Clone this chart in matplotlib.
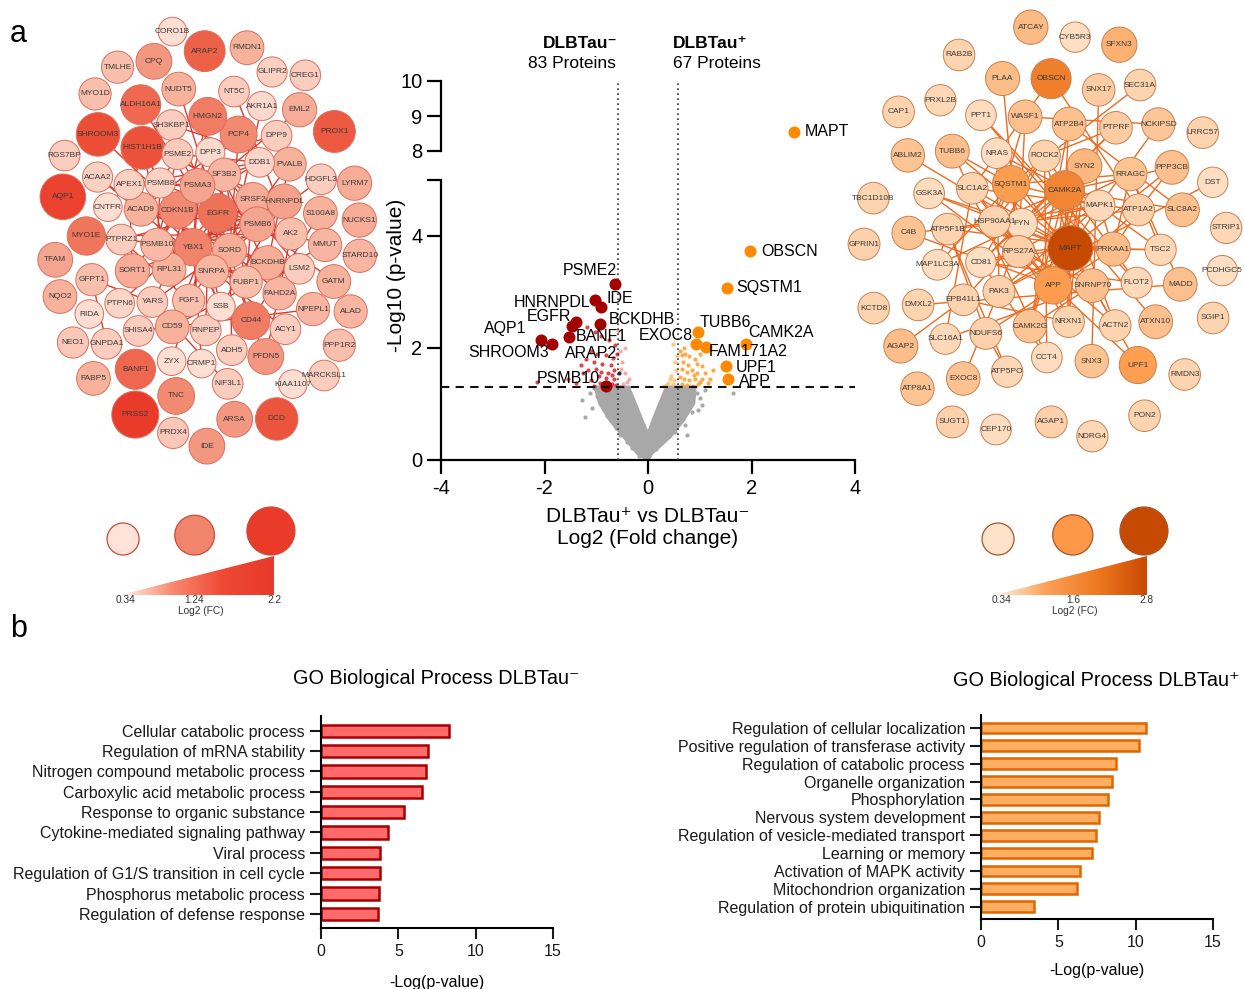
#!/usr/bin/env python3
"""
Proteomics overview figure: protein networks, volcano plot and GO enrichment bars.
"""

import numpy as np
import matplotlib
matplotlib.use("Agg")
import matplotlib.pyplot as plt
from matplotlib.patches import Circle, Polygon
from matplotlib.colors import LinearSegmentedColormap
from matplotlib.collections import LineCollection
from matplotlib import transforms

plt.rcParams["font.family"] = ["Liberation Sans", "DejaVu Sans"]
plt.rcParams["axes.unicode_minus"] = False

W, H = 1244, 989

# ---------------------------------------------------------------- networks
# DLBTau- network (log2 FC, absolute)
neg_nodes = ["TNC", "CPQ", "DPP9", "DPP3", "RNPEP", "PPP1R2", "RIDA", "ALDH16A1", "FAHD2A",
             "NPEPL1", "SHISA4", "GLIPR2", "ARSA", "AKR1A1", "SORD", "BCKDHB", "RGS7BP", "PCP4",
             "NUCKS1", "BANF1", "ADH5", "PTPRZ1", "PVALB", "ARAP2", "KIAA1107", "CNTFR", "ACAD9",
             "S100A8", "FGF1", "TFAM", "PROX1", "PRDX4", "CD44", "SH3KBP1", "ZYX", "ACAA2",
             "TMLHE", "MMUT", "CD59", "EGFR", "NUDT5", "CDKN1B", "ACY1", "ALAD", "PTPN6", "SF3B2",
             "DDB1", "EML2", "NEO1", "CRMP1", "YBX1", "SRSF2", "FUBP1", "SHROOM3", "RMDN1", "DCD",
             "LSM2", "APEX1", "SORT1", "SNRPA", "HNRNPDL", "SSB", "GATM", "AQP1", "PSMB8", "PSMB6",
             "LYRM7", "PRSS2", "HIST1H1B", "RPL31", "PSMA3", "CORO1B", "PSME2", "MARCKSL1", "NQO2",
             "PSMB10", "CREG1", "IDE", "GNPDA1", "HMGN2", "PFDN5", "AK2", "NT5C", "MYO1D", "YARS",
             "NIF3L1", "MYO1E", "GFPT1", "HDGFL3", "STARD10", "FABP5"]
neg_fc = [1.2, 1.1, 0.6, 0.45, 0.6, 0.75, 0.4, 1.5, 0.85,
          0.85, 0.6, 0.55, 1.1, 0.45, 0.95, 0.93, 0.6, 1.2,
          0.95, 1.53, 0.6, 0.6, 0.9, 1.6, 0.4, 0.4, 0.9,
          0.9, 0.75, 1.0, 1.7, 0.65, 1.3, 0.6, 0.4, 0.55,
          0.75, 0.85, 0.9, 1.39, 0.9, 1.2, 0.6, 0.85, 0.5, 0.85,
          0.5, 0.95, 0.65, 0.4, 1.25, 0.95, 0.75, 1.86, 0.9, 1.75,
          0.6, 0.55, 0.95, 0.85, 1.02, 0.4, 0.9, 2.06, 0.55, 1.0,
          0.95, 2.2, 1.8, 0.9, 1.0, 0.4, 0.63, 0.6, 0.9,
          0.81, 0.6, 1.1, 0.6, 1.3, 1.1, 0.75, 0.6, 0.75, 0.6,
          0.6, 1.35, 0.75, 0.6, 0.85, 0.9]
neg_edges = [
    ("DPP3", "RNPEP"), ("DPP3", "DPP9"), ("DPP3", "FAHD2A"), ("FAHD2A", "BCKDHB"),
    ("FAHD2A", "SORD"), ("ALDH16A1", "SORD"), ("SHISA4", "NPEPL1"), ("SORD", "AKR1A1"),
    ("SORD", "ADH5"), ("SORD", "BCKDHB"), ("SORD", "PCP4"), ("SORD", "PTPRZ1"),
    ("SORD", "ACAD9"), ("BCKDHB", "ACAD9"), ("BCKDHB", "PVALB"), ("PCP4", "ACAD9"),
    ("ACAD9", "ACAA2"), ("ACAA2", "ACY1"), ("PVALB", "FGF1"), ("PVALB", "SH3KBP1"),
    ("FGF1", "EGFR"), ("PTPRZ1", "EGFR"), ("PTPRZ1", "FGF1"), ("S100A8", "CD44"),
    ("CD44", "EGFR"), ("MMUT", "CD59"), ("CD59", "EGFR"), ("MMUT", "EGFR"),
    ("SF3B2", "EGFR"), ("SF3B2", "SRSF2"), ("SF3B2", "SNRPA"), ("SF3B2", "FUBP1"),
    ("SF3B2", "LSM2"), ("EGFR", "NUDT5"), ("EGFR", "SH3KBP1"), ("EGFR", "CDKN1B"),
    ("EGFR", "YBX1"), ("EGFR", "PTPN6"), ("EGFR", "SRSF2"), ("EGFR", "ZYX"),
    ("SH3KBP1", "CNTFR"), ("YBX1", "SRSF2"), ("YBX1", "HNRNPDL"), ("YBX1", "SSB"),
    ("YBX1", "FUBP1"), ("YBX1", "PSMA3"), ("YBX1", "RPL31"), ("YBX1", "HIST1H1B"),
    ("YBX1", "APEX1"), ("YBX1", "SORT1"), ("YBX1", "CRMP1"), ("CDKN1B", "DDB1"),
    ("CDKN1B", "PSMB8"), ("CDKN1B", "PSMA3"), ("CDKN1B", "PSMB6"), ("CDKN1B", "PSMB10"),
    ("CDKN1B", "SHROOM3"), ("CDKN1B", "EML2"), ("DDB1", "PSMA3"), ("DDB1", "APEX1"),
    ("DDB1", "PSME2"), ("SRSF2", "HNRNPDL"), ("SRSF2", "SNRPA"), ("SRSF2", "FUBP1"),
    ("HNRNPDL", "SNRPA"), ("HNRNPDL", "SSB"), ("SNRPA", "LSM2"), ("SNRPA", "FUBP1"),
    ("SNRPA", "SSB"), ("FUBP1", "LSM2"), ("HIST1H1B", "SSB"), ("HIST1H1B", "HNRNPDL"),
    ("PSMA3", "PSMB8"), ("PSMA3", "PSMB6"), ("PSMA3", "PSME2"), ("PSMA3", "PSMB10"),
    ("PSMA3", "RPL31"), ("PSMA3", "APEX1"), ("PSMA3", "PFDN5"), ("PSMA3", "SORT1"),
    ("PSMB8", "PSMB6"), ("PSMB8", "PSME2"), ("PSMB8", "PSMB10"), ("PSMB6", "PSME2"),
    ("PSMB6", "PSMB10"), ("PSME2", "PSMB10"), ("PSMB6", "GATM"), ("AK2", "NT5C"),
    ("AK2", "PSMB10"), ("AK2", "PFDN5"), ("AK2", "MYO1E"), ("YARS", "GFPT1"),
    ("YARS", "RPL31"), ("YARS", "NIF3L1"), ("YARS", "HDGFL3"), ("GFPT1", "GNPDA1"),
    ("HMGN2", "RPL31"), ("HMGN2", "YBX1"), ("RPL31", "HIST1H1B"), ("SORT1", "APEX1"),
    ("APEX1", "PSMB8"),
]

# DLBTau+ network
pos_nodes = ["AGAP2", "SNX17", "AGAP1", "EPB41L1", "ATP2B4", "SYN2", "SNX3", "PRXL2B", "CAMK2G",
             "PCDHGC5", "SLC8A2", "CAMK2A", "NRXN1", "SLC16A1", "SLC1A2", "OBSCN", "ACTN2",
             "ATP8A1", "UPF1", "APP", "SNRNP70", "C4B", "CYB5R3", "GSK3A", "ATP1A2", "ABLIM2",
             "DST", "NRAS", "PPP3CB", "PON2", "MAPT", "PRKAA1", "NDUFS6", "EXOC8", "PAK3", "FYN",
             "TSC2", "TBC1D10B", "NCKIPSD", "MAPK1", "RPS27A", "HSP90AA1", "ATP5F1B", "ATP5PO",
             "WASF1", "LRRC57", "RRAGC", "PLAA", "CD81", "FLOT2", "SQSTM1", "ROCK2", "MAP1LC3A",
             "CEP170", "RAB2B", "ATXN10", "PPT1", "MADD", "DMXL2", "PTPRF", "CCT4", "TUBB6",
             "SGIP1", "KCTD8", "SEC31A", "SFXN3", "NDRG4", "CAP1", "STRIP1", "SUGT1", "ATCAY",
             "RMDN3", "GPRIN1"]
pos_fc = [1.0, 0.75, 0.65, 0.6, 0.95, 1.1, 0.9, 0.55, 0.9,
          0.4, 0.95, 1.89, 0.6, 0.5, 0.6, 1.98, 0.6,
          0.9, 1.51, 1.54, 0.95, 0.9, 0.4, 0.45, 0.65, 0.9,
          0.4, 0.45, 0.95, 0.6, 2.83, 1.0, 0.65, 0.92, 0.65, 0.45,
          0.55, 0.6, 0.85, 0.5, 0.7, 0.6, 0.6, 0.55,
          0.95, 0.6, 0.9, 1.0, 0.4, 0.5, 1.53, 0.6, 0.45,
          0.45, 0.6, 0.95, 0.45, 0.95, 0.6, 0.75, 0.45, 0.97,
          0.6, 0.6, 0.6, 1.2, 0.55, 0.6, 0.55, 0.65, 1.05,
          0.6, 0.65]
pos_edges = [
    ("AGAP2", "EPB41L1"), ("SNX17", "SNX3"), ("EPB41L1", "SYN2"), ("EPB41L1", "NRXN1"),
    ("ATP2B4", "CAMK2G"), ("ATP2B4", "SLC8A2"), ("ATP2B4", "CAMK2A"), ("SYN2", "CAMK2G"),
    ("SYN2", "CAMK2A"), ("SYN2", "NRXN1"), ("SYN2", "APP"), ("SYN2", "MAPT"),
    ("CAMK2G", "CAMK2A"), ("CAMK2G", "SNRNP70"), ("SLC8A2", "CAMK2A"), ("CAMK2A", "NRXN1"),
    ("CAMK2A", "MAPT"), ("CAMK2A", "APP"), ("CAMK2A", "ACTN2"), ("CAMK2A", "FYN"),
    ("CAMK2A", "HSP90AA1"), ("NRXN1", "SLC1A2"), ("NRXN1", "APP"), ("NRXN1", "MAPT"),
    ("SLC16A1", "SLC1A2"), ("SLC16A1", "SNRNP70"), ("SLC1A2", "OBSCN"), ("SLC1A2", "MAPT"),
    ("SLC1A2", "ATP1A2"), ("SLC1A2", "APP"), ("OBSCN", "ATP1A2"), ("ACTN2", "MAPT"),
    ("ACTN2", "HSP90AA1"), ("UPF1", "SNRNP70"), ("UPF1", "APP"), ("APP", "MAPT"),
    ("APP", "C4B"), ("APP", "ATP1A2"), ("APP", "GSK3A"), ("APP", "FYN"),
    ("APP", "HSP90AA1"), ("SNRNP70", "NRAS"), ("SNRNP70", "RPS27A"), ("C4B", "ATP1A2"),
    ("GSK3A", "MAPT"), ("GSK3A", "FYN"), ("ATP1A2", "PRKAA1"), ("ATP1A2", "PPP3CB"),
    ("ABLIM2", "FYN"), ("DST", "PAK3"), ("NRAS", "MAPK1"), ("NRAS", "PAK3"),
    ("NRAS", "FYN"), ("PPP3CB", "MAPT"), ("PPP3CB", "CAMK2A"), ("MAPT", "PRKAA1"),
    ("MAPT", "FYN"), ("MAPT", "MAPK1"), ("MAPT", "TSC2"), ("MAPT", "HSP90AA1"),
    ("MAPT", "SQSTM1"), ("MAPT", "RPS27A"), ("MAPT", "CD81"), ("MAPT", "TUBB6"),
    ("MAPT", "ROCK2"), ("MAPT", "PAK3"), ("PRKAA1", "NDUFS6"), ("PRKAA1", "TSC2"),
    ("PRKAA1", "ATP5F1B"), ("PRKAA1", "MAPK1"), ("PRKAA1", "RRAGC"), ("NDUFS6", "ATP5PO"),
    ("NDUFS6", "ATP5F1B"), ("EXOC8", "PAK3"), ("PAK3", "FYN"), ("PAK3", "MAPK1"),
    ("FYN", "MAPK1"), ("FYN", "HSP90AA1"), ("FYN", "RPS27A"), ("FYN", "CD81"),
    ("FYN", "PTPRF"), ("TSC2", "MAPK1"), ("TSC2", "RRAGC"), ("NCKIPSD", "MAPK1"),
    ("NCKIPSD", "WASF1"), ("MAPK1", "HSP90AA1"), ("MAPK1", "SQSTM1"), ("MAPK1", "RPS27A"),
    ("RPS27A", "HSP90AA1"), ("RPS27A", "WASF1"), ("RPS27A", "SQSTM1"), ("RPS27A", "PLAA"),
    ("RPS27A", "CD81"), ("HSP90AA1", "ATP5F1B"), ("HSP90AA1", "ROCK2"), ("HSP90AA1", "SQSTM1"),
    ("HSP90AA1", "WASF1"), ("ATP5F1B", "ATP5PO"), ("ATP5F1B", "MAP1LC3A"), ("RRAGC", "MAP1LC3A"),
    ("RRAGC", "MADD"), ("SQSTM1", "MAP1LC3A"), ("SQSTM1", "RRAGC"), ("SQSTM1", "SEC31A"),
    ("SQSTM1", "TUBB6"), ("CD81", "FLOT2"), ("CD81", "PTPRF"), ("CD81", "ROCK2"),
    ("CD81", "CCT4"), ("FLOT2", "ROCK2"), ("FLOT2", "PPT1"), ("ROCK2", "CCT4"),
    ("ROCK2", "PTPRF"), ("ATXN10", "PPT1"), ("MADD", "DMXL2"), ("TUBB6", "CCT4"),
]

# ---------------------------------------------------------------- volcano
neg_big_names = ["PSME2", "HNRNPDL", "IDE", "BCKDHB", "EGFR", "ARAP2", "BANF1", "AQP1", "SHROOM3", "PSMB10"]
neg_big_x = [-0.63, -1.02, -0.91, -0.93, -1.39, -1.47, -1.53, -2.06, -1.86, -0.81]
neg_big_y = [3.14, 2.85, 2.73, 2.43, 2.47, 2.39, 2.20, 2.15, 2.08, 1.32]

pos_big_names = ["MAPT", "OBSCN", "SQSTM1", "TUBB6", "EXOC8", "FAM171A2", "CAMK2A", "UPF1", "APP"]
pos_big_x = [2.83, 1.98, 1.53, 0.97, 0.92, 1.13, 1.89, 1.51, 1.54]
pos_big_y = [8.55, 3.73, 3.08, 2.28, 2.08, 2.02, 2.08, 1.68, 1.44]

# where each label sits (left edge, vertical centre)
neg_label_xy = [(-1.65, 3.38), (-2.59, 2.82), (-0.80, 2.89), (-0.76, 2.51), (-2.34, 2.57),
                (-1.60, 1.91), (-1.39, 2.21), (-3.17, 2.35), (-3.48, 1.92), (-2.15, 1.45)]
pos_label_xy = [(3.02, 8.55), (2.18, 3.73), (1.71, 3.08), (1.00, 2.46), (-0.17, 2.23),
                (1.17, 1.93), (1.94, 2.27), (1.69, 1.65), (1.75, 1.40)]

neg_small = [(-1.18, 2.37), (-1.02, 2.29), (-0.90, 2.22), (-0.75, 2.15), (-0.64, 2.05),
             (-1.10, 1.95), (-0.98, 1.90), (-0.82, 1.88), (-0.68, 1.83), (-1.20, 1.80),
             (-1.05, 1.75), (-0.88, 1.72), (-0.72, 1.70), (-1.00, 1.62), (-0.90, 1.58),
             (-0.77, 1.55), (-0.65, 1.60), (-1.25, 1.55), (-0.95, 1.50), (-0.81, 1.47),
             (-0.66, 1.45), (-1.10, 1.42), (-0.92, 1.38), (-0.70, 1.36), (-0.62, 1.34),
             (-2.15, 1.40), (-1.40, 1.38), (-1.55, 1.45), (-0.86, 1.33), (-1.05, 1.33),
             (-0.70, 1.52), (-1.15, 1.60), (-1.30, 1.70), (-0.60, 1.90)]
neg_pale = [(-0.55, 1.95), (-0.50, 1.75), (-0.45, 1.55), (-0.40, 1.40), (-0.48, 1.35),
            (-0.36, 1.45), (-0.52, 1.62), (-0.58, 2.30), (-0.44, 2.00)]
pos_small = [(0.62, 1.95), (0.72, 1.90), (0.80, 1.85), (0.90, 1.80), (0.68, 1.75),
             (0.78, 1.70), (0.95, 1.72), (1.05, 1.68), (0.65, 1.62), (0.75, 1.58),
             (0.85, 1.60), (0.95, 1.55), (1.10, 1.55), (0.62, 1.48), (0.70, 1.45),
             (0.80, 1.42), (0.90, 1.45), (1.00, 1.40), (1.15, 1.38), (0.66, 1.36),
             (0.76, 1.34), (0.86, 1.33), (0.96, 1.35), (1.05, 1.45), (0.88, 1.52),
             (1.20, 1.45), (1.25, 1.60), (0.70, 2.00), (1.00, 1.90), (0.65, 1.87)]
pos_pale = [(0.45, 1.50), (0.50, 1.42), (0.38, 1.38), (0.55, 1.60), (0.48, 1.35),
            (0.42, 1.45), (0.52, 1.75), (0.35, 1.34), (0.49, 2.08), (0.56, 1.85), (0.30, 1.32)]
other_pts = [(-0.57, 1.56)]

# non-significant cloud: outline of the dense V, plus loose points round it
cloud_x = [0.0, -0.20, -0.47, -0.73, -0.93, -1.02, -0.38, -0.25, -0.12, 0.0,
           0.10, 0.23, 0.36, 0.91, 0.88, 0.68, 0.43, 0.07]
cloud_y = [0.0, 0.12, 0.42, 0.71, 1.01, 1.30, 1.30, 1.01, 0.71, 0.45,
           0.71, 1.01, 1.30, 1.30, 1.01, 0.71, 0.42, 0.12]
gray_pts = [(-1.22, 0.77), (-1.09, 0.92), (-1.28, 1.07), (-1.12, 1.20), (-0.98, 1.15),
            (-0.85, 0.95), (-0.80, 0.78), (-0.62, 0.58), (-0.55, 0.45), (-0.40, 0.33),
            (-0.30, 0.22), (-0.18, 0.08), (0.15, 0.20), (0.30, 0.38), (0.52, 0.50),
            (0.72, 0.62), (0.85, 0.85), (0.97, 0.89), (1.04, 0.98), (1.65, 1.19),
            (0.75, 0.45), (0.95, 1.20), (1.10, 1.25), (-1.05, 1.28), (0.30, 0.90),
            (-0.32, 0.80), (-0.20, 0.50), (0.12, 0.35), (-0.68, 0.85), (0.62, 0.80),
            (1.00, 1.10), (-0.95, 1.24), (0.42, 1.20), (-0.45, 1.25)]

# ---------------------------------------------------------------- GO terms
go_neg_terms = ["Cellular catabolic process", "Regulation of mRNA stability",
                "Nitrogen compound metabolic process", "Carboxylic acid metabolic process",
                "Response to organic substance", "Cytokine-mediated signaling pathway",
                "Viral process", "Regulation of G1/S transition in cell cycle",
                "Phosphorus metabolic process", "Regulation of defense response"]
go_neg_vals = [8.26, 6.89, 6.76, 6.56, 5.36, 4.35, 3.83, 3.83, 3.74, 3.66]

go_pos_terms = ["Regulation of cellular localization", "Positive regulation of transferase activity",
                "Regulation of catabolic process", "Organelle organization", "Phosphorylation",
                "Nervous system development", "Regulation of vesicle-mediated transport",
                "Learning or memory", "Activation of MAPK activity", "Mitochondrion organization",
                "Regulation of protein ubiquitination"]
go_pos_vals = [10.70, 10.22, 8.76, 8.50, 8.24, 7.62, 7.45, 7.19, 6.41, 6.22, 3.44]

# legend values
neg_legend = [0.34, 1.24, 2.2]
pos_legend = [0.34, 1.6, 2.8]

RED_CMAP = LinearSegmentedColormap.from_list(
    "reds", [(0, "#fde3d9"), (0.3, "#f7b29d"), (0.55, "#ef745a"), (0.8, "#ec4f38"), (1, "#e93a2a")])
ORANGE_CMAP = LinearSegmentedColormap.from_list(
    "oranges", [(0, "#fee2c9"), (0.25, "#fcc08e"), (0.5, "#fd9a4a"), (0.75, "#e8721f"), (1, "#c74a03")])
RED_RAMP = LinearSegmentedColormap.from_list("redramp", ["#fff4f0", "#f98a70", "#ef4a36", "#e6392a"])
ORANGE_RAMP = LinearSegmentedColormap.from_list("orramp", ["#fff3e6", "#fca15a", "#ee7a22", "#c94a02"])


def px_axes(fig, x0, y0, x1, y1):
    """Axes placed by pixel box (top-left origin)."""
    return fig.add_axes([x0 / W, 1 - y1 / H, (x1 - x0) / W, (y1 - y0) / H])


def relax_layout(n, ei, ej, radii, cx, cy, a, b, gap, steps=700):
    """Sunflower start (hubs in the middle), then springs + collisions inside an ellipse."""
    deg = np.bincount(np.concatenate([ei, ej]), minlength=n)
    order = np.argsort(-deg, kind="stable")
    k = np.arange(n)
    rho = np.sqrt((k + 0.5) / n)
    ang = k * np.pi * (3 - np.sqrt(5))
    pos = np.empty((n, 2))
    pos[order, 0] = cx + 0.92 * a * rho * np.cos(ang)
    pos[order, 1] = cy + 0.92 * b * rho * np.sin(ang)
    centre = np.array([cx, cy])
    for _ in range(steps):
        disp = np.zeros((n, 2))
        d = pos[ej] - pos[ei]
        dist = np.hypot(d[:, 0], d[:, 1]) + 1e-9
        pull = 0.006 * np.clip(dist - (radii[ei] + radii[ej] + 30), 0, None)
        vec = d / dist[:, None] * pull[:, None]
        np.add.at(disp, ei, vec)
        np.add.at(disp, ej, -vec)
        diff = pos[:, None, :] - pos[None, :, :]
        dd = np.hypot(diff[..., 0], diff[..., 1])
        np.fill_diagonal(dd, 1e9)
        overlap = np.clip(radii[:, None] + radii[None, :] + gap - dd, 0, None)
        disp += (diff / dd[..., None] * (0.5 * overlap)[..., None]).sum(axis=1)
        pos += disp
        rel = pos - centre
        s = np.sqrt((rel[:, 0] / (a - radii)) ** 2 + (rel[:, 1] / (b - radii)) ** 2)
        out = s > 1
        pos[out] = centre + rel[out] / s[out, None]
    return pos


def draw_network(ax, names, fc, edges, fc_max, cmap, box, gap, line_col, ring_col, rmin, rspan):
    cx, cy, a, b = box
    t = (np.array(fc) - 0.34) / (fc_max - 0.34)
    radii = rmin + rspan * t
    idx = {name: i for i, name in enumerate(names)}
    ei = np.array([idx[u] for u, _ in edges])
    ej = np.array([idx[v] for _, v in edges])
    pos = relax_layout(len(names), ei, ej, radii, cx, cy, a, b, gap)
    segs = [[pos[i], pos[j]] for i, j in zip(ei, ej)]
    ax.add_collection(LineCollection(segs, colors=line_col, linewidths=1.0, zorder=1))
    for i, name in enumerate(names):
        ax.add_patch(Circle(pos[i], radii[i], facecolor=cmap(t[i]), edgecolor=ring_col,
                            linewidth=0.7, zorder=2))
        ax.text(pos[i, 0], pos[i, 1], name, fontsize=6.0, ha="center", va="center",
                color="#3a3a3a", zorder=3)


def draw_size_legend(ax, values, cmap, ramp, ring_col, x0, x1):
    vmin, vmax = values[0], values[-1]
    for v in values:
        t = (v - vmin) / (vmax - vmin)
        r = 16 + 8 * t
        xc = x0 + (x1 - x0) * (0.02 + 0.96 * t)
        ax.add_patch(Circle((xc, 555 - r), r, facecolor=cmap(t), edgecolor=ring_col, linewidth=0.9))
        ax.text(x0 + (x1 - x0) * t + (6 if t == 0 else 0), 600, f"{v:g}", fontsize=7.3,
                ha="center", va="center", color="#333333")
    tri = Polygon([(x0, 595), (x1, 595), (x1, 556)], closed=True, facecolor="none",
                  edgecolor="none", transform=ax.transData)
    ax.add_patch(tri)
    grad = np.linspace(0, 1, 256)[None, :]
    im = ax.imshow(grad, cmap=ramp, aspect="auto", extent=(x0, x1, 595, 556), zorder=1)
    im.set_clip_path(tri)
    ax.text((x0 + x1) / 2 + 4, 611, "Log2 (FC)", fontsize=7.3, ha="center", va="center",
            color="#333333")


def draw_go(ax, terms, vals, face, edge):
    y = np.arange(len(terms))
    ax.barh(y, vals, height=0.6, color=face, edgecolor=edge, linewidth=1.8)
    ax.set_yticks(y)
    ax.set_yticklabels(terms)
    ax.set_xlim(0, 15)
    ax.set_xticks([0, 5, 10, 15])
    ax.set_ylim(len(terms) - 1 + 0.69, -0.72)
    for side in ("top", "right"):
        ax.spines[side].set_visible(False)
    for side in ("left", "bottom"):
        ax.spines[side].set_linewidth(1.5)
    ax.tick_params(direction="out", length=8, width=1.5, labelsize=11.5, colors="#1a1a1a")


def main():
    fig = plt.figure(figsize=(W / 100, H / 100), dpi=100)

    canvas = px_axes(fig, 0, 0, W, H)
    canvas.set_xlim(0, W)
    canvas.set_ylim(H, 0)
    canvas.axis("off")

    # networks
    draw_network(canvas, neg_nodes, neg_fc, neg_edges, 2.2, RED_CMAP,
                 (207, 238, 170, 226), 3.0, "#e03a2e", "#d8705f", 14, 9.5)
    draw_network(canvas, pos_nodes, pos_fc, pos_edges, 2.8, ORANGE_CMAP,
                 (1045, 238, 197, 230), 12.0, "#f06a1e", "#c98050", 15, 7.5)

    # size legends
    draw_size_legend(canvas, neg_legend, RED_CMAP, RED_RAMP, "#d0483c", 120, 274)
    draw_size_legend(canvas, pos_legend, ORANGE_CMAP, ORANGE_RAMP, "#a8552a", 995, 1147)

    # panel letters and headers
    canvas.text(10, 42, "a", fontsize=22, va="baseline")
    canvas.text(10, 637, "b", fontsize=22, va="baseline")
    canvas.text(617, 44, "DLBTau⁻", fontsize=12.5, fontweight="bold", ha="right", va="center")
    canvas.text(616, 63, "83 Proteins", fontsize=12.5, ha="right", va="center")
    canvas.text(673, 44, "DLBTau⁺", fontsize=12.5, fontweight="bold", ha="left", va="center")
    canvas.text(673, 63, "67 Proteins", fontsize=12.5, ha="left", va="center")
    canvas.text(396, 275, "-Log10 (p-value)", fontsize=15, rotation=90, ha="center", va="center")
    canvas.text(648, 516, "DLBTau⁺ vs DLBTau⁻", fontsize=15, ha="center", va="center")
    canvas.text(648, 539, "Log2 (Fold change)", fontsize=15, ha="center", va="center")

    # volcano: broken y axis
    ax_lo = px_axes(fig, 441, 180, 855, 460)
    ax_hi = px_axes(fig, 441, 81, 855, 151)
    for ax in (ax_lo, ax_hi):
        ax.set_facecolor("none")
        ax.set_xlim(-4, 4)
        ax.fill(cloud_x, cloud_y, color="#a8a8a8", linewidth=2.5, edgecolor="#a8a8a8", zorder=1)
        gx, gy = zip(*gray_pts)
        ax.scatter(gx, gy, s=9, color="#a8a8a8", linewidths=0, zorder=1)
        for pts, col in ((neg_pale, "#f4a3a3"), (pos_pale, "#ffc56e"),
                         (neg_small, "#d8333a"), (pos_small, "#ffa033"), (other_pts, "#111111")):
            px, py = zip(*pts)
            ax.scatter(px, py, s=9, color=col, linewidths=0, alpha=0.9, zorder=2)
        ax.scatter(neg_big_x, neg_big_y, s=75, color="#a50000", linewidths=0, zorder=4)
        ax.scatter(pos_big_x, pos_big_y, s=75, color="#ff8a00", linewidths=0, zorder=4)
        for side in ("top", "right"):
            ax.spines[side].set_visible(False)
        ax.spines["left"].set_linewidth(1.6)
        ax.spines["bottom"].set_linewidth(1.6)
        ax.tick_params(direction="out", length=10, width=1.6, labelsize=14.5)

    ax_lo.set_ylim(0, 5)
    ax_lo.set_yticks([0, 2, 4, 5])
    ax_lo.set_yticklabels(["0", "2", "4", ""])
    ax_lo.set_xticks([-4, -2, 0, 2, 4])
    ax_lo.axhline(1.3, color="#111111", linestyle=(0, (4, 3)), linewidth=1.5, zorder=5)

    ax_hi.set_ylim(8, 10)
    ax_hi.set_yticks([8, 9, 10])
    ax_hi.set_xticks([])
    ax_hi.spines["bottom"].set_visible(False)

    # cut-off lines run through the gap up to the top segment
    blend = transforms.blended_transform_factory(ax_lo.transData, ax_lo.transAxes)
    top = (460 - 82) / 280
    for xv in (-0.58, 0.58):
        ax_lo.plot([xv, xv], [0, top], transform=blend, color="#333333", linestyle=(0, (1, 2)),
                   linewidth=1.2, clip_on=False, zorder=3)

    for name, (lx, ly) in zip(neg_big_names, neg_label_xy):
        ax_lo.text(lx, ly, name, fontsize=11.5, ha="left", va="center", zorder=6)
    for name, (lx, ly) in zip(pos_big_names, pos_label_xy):
        target = ax_hi if ly > 5 else ax_lo
        target.text(lx, ly, name, fontsize=11.5, ha="left", va="center", zorder=6)

    # GO bar charts
    ax_gn = px_axes(fig, 321, 716, 553, 928)
    draw_go(ax_gn, go_neg_terms, go_neg_vals, "#ff6a6a", "#a80000")
    ax_gp = px_axes(fig, 981, 715, 1213, 919)
    draw_go(ax_gp, go_pos_terms, go_pos_vals, "#ffae62", "#e06600")

    canvas.text(436, 679, "GO Biological Process DLBTau⁻", fontsize=14.3, ha="center", va="center")
    canvas.text(1096, 680, "GO Biological Process DLBTau⁺", fontsize=14.3, ha="center", va="center")
    canvas.text(437, 982, "-Log(p-value)", fontsize=11.5, ha="center", va="center")
    canvas.text(1097, 971, "-Log(p-value)", fontsize=11.5, ha="center", va="center")

    fig.savefig("out.png", dpi=100)
    plt.close(fig)


if __name__ == "__main__":
    main()
